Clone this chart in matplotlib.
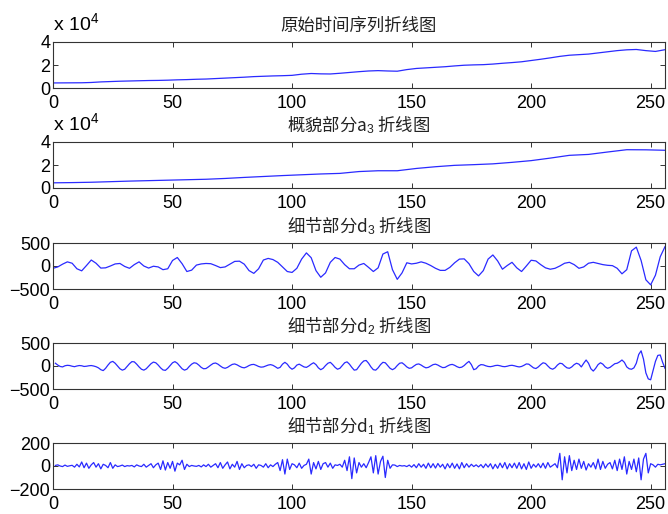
import matplotlib.pyplot as plt
import numpy as np

# original series (every 4th sample)
orig_x = np.arange(0, 257, 4)
orig = [4400, 4450, 4500, 4550, 4800, 5300, 5600, 5900, 6100, 6300, 6500, 6600, 6800,
        7100, 7300, 7600, 7800, 8200, 8600, 9000, 9400, 9900, 10200, 10500, 10700,
        11000, 12000, 12600, 12300, 12200, 12800, 13500, 14200, 14800, 15100, 14800,
        14600, 16000, 17000, 17500, 18000, 18500, 19200, 19800, 20100, 20300, 20800,
        21500, 22100, 22800, 23900, 25000, 26200, 27500, 28500, 29000, 29500, 30500,
        31500, 32500, 33200, 33500, 32500, 31800, 33300]

# approximation a3 (every 8th sample)
a3_x = np.arange(0, 257, 8)
a3 = [4500, 4700, 5000, 5500, 6000, 6400, 6800, 7200, 7600, 8300, 9200, 10000, 10800,
      11500, 12200, 12700, 14300, 15000, 15000, 17000, 18500, 19700, 20300, 21000,
      22300, 23800, 26000, 28400, 29200, 31300, 33300, 33200, 32800]

# detail d3 (every 2nd sample)
d3_x = np.arange(0, 257, 2)
d3 = [-50, -20, 40, 90, 60, -60, -105, 10, 130, 60, -45, -40, 0, 45, 55, -10,
      -50, 30, 90, 0, -45, -5, -20, -80, -60, 120, 185, 50, -120, -90, 20, 45,
      55, 50, 10, -35, -20, 40, 100, 105, 40, -100, -160, -60, 130, 165, 140, 80,
      -20, -120, -140, -50, 150, 285, 180, -100, -245, -150, 80, 185, 150, 30, -60, -60,
      20, 55, -30, -120, -40, 260, 310, -80, -290, -150, 70, 45, 60, 90, 60, 10,
      -50, -95, -95, -30, 70, 150, 155, 50, -120, -215, -100, 150, 240, 110, -70, 10,
      80, -40, -120, 0, 125, 110, 30, -40, -70, -50, 0, 60, 80, 30, -50, -20,
      60, 80, 55, 30, 15, 8, -50, -170, -80, 330, 410, 120, -300, -410, -200, 200,
      420]

# detail d2
d2 = [60, 20, -10, -20, 5, 15, 10, -5, -15, 0, 10, 5, -10, -5, 5, 10,
      0, -15, -40, -80, -100, -50, 20, 80, 100, 60, 0, -60, -90, -70, -10, 50,
      95, 90, 40, -20, -70, -90, -60, -5, 50, 85, 70, 20, -40, -85, -95, -50,
      10, 70, 95, 60, 0, -60, -90, -70, -10, 40, 70, 60, 20, -30, -60, -55,
      -20, 20, 55, 65, 40, 0, -35, -50, -30, 5, 35, 45, 25, -5, -30, -40,
      -20, 10, 30, 35, 15, -10, -25, -20, 0, 20, 30, 15, -15, -50, -30, 40,
      80, 40, -30, -70, -40, 20, 40, 10, -20, -30, 0, 40, 70, 30, -40, -80,
      -50, 10, 60, 80, 30, -30, -70, -50, 10, 70, 90, 40, -30, -90, -80, -10,
      60, 110, 120, 60, -20, -80, -90, -40, 30, 80, 70, 10, -50, -80, -50, 10,
      60, 70, 30, -20, -50, -40, 0, 35, 45, 20, -15, -40, -30, 0, 30, 40,
      20, -10, -35, -30, 0, 25, 35, 15, -15, -35, -25, 10, 60, 100, 30, -80,
      -60, 0, 30, 25, 5, -10, -15, -5, 10, 15, 5, -10, -15, -5, 10, 15,
      5, -10, -20, -10, 15, 45, 40, 0, -40, -55, -20, 30, 70, 55, 0, -50,
      -70, -40, 20, 60, 50, 0, -40, -50, -20, 30, 60, 40, -20, 60, 130, 60,
      -60, -110, -50, 30, 70, 40, -20, -50, -30, 10, 50, 60, 90, 130, 80, -20,
      -60, -70, -40, 60, 250, 330, 150, -150, -280, -300, -100, 100, 230, 240, 80, -50]

# detail d1
d1 = [5, 10, 0, -5, 8, -3, 2, 6, -10, 15, -8, 35, -15, 25, -20, 10,
      30, -10, 20, -25, 15, 5, -15, 30, -20, 10, -5, 0, 8, -5, 3, 0,
      5, -8, 10, 0, -5, 15, -10, 5, 20, -15, 10, 25, -30, 45, -35, 30,
      -20, 40, -45, 25, 10, 50, -30, 15, -5, 5, 0, -3, 5, -8, 10, -5,
      15, -10, 5, 20, -15, 30, -20, 10, 35, -25, 15, -10, 40, -30, 20, -15,
      5, 10, -5, 15, -20, 10, 5, -10, 20, -15, 10, -5, 15, 30, -40, 55,
      -70, 60, -30, 20, 10, -15, 25, -20, 5, 15, 60, -70, 30, -25, 40, -30,
      20, 30, -10, 25, -20, 10, 5, 15, -10, 50, -40, 80, -110, 70, -60, 30,
      -10, 20, -15, 30, 80, -60, 90, -70, 40, 85, -100, 50, -20, 10, 8, -5,
      5, 0, 3, -5, 8, -10, 12, -15, 20, -10, 15, -20, 25, -15, 20, -18,
      22, -10, 15, -25, 20, -15, 25, -20, 18, -25, 30, -15, 20, -10, 15, -5,
      10, -8, 12, -15, 18, -10, 20, -25, 15, -20, 25, -15, 30, -25, 20, -15,
      25, -20, 30, -25, 20, -30, 35, -20, 15, -10, 20, -15, 25, -20, 30, -10,
      5, 20, -15, 110, -120, 80, -60, 90, -40, 50, -30, 60, -20, 40, -35, 20,
      -10, 30, -25, 60, -30, 40, -20, 15, 30, -25, 50, -40, 60, -30, 80, -70,
      40, -30, 60, -50, 70, -120, 60, 110, -60, 20, 10, -10, 15, 10, 15, 20]
d_x = np.arange(1, 257)

titles = ['原始时间序列折线图', '概貌部分a$_3$ 折线图', '细节部分d$_3$ 折线图',
          '细节部分d$_2$ 折线图', '细节部分d$_1$ 折线图']
xticks = [0, 50, 100, 150, 200, 250]

plt.rcParams['font.family'] = ['Liberation Sans', 'DejaVu Sans']
plt.rcParams['mathtext.fontset'] = 'custom'
plt.rcParams['mathtext.rm'] = 'Liberation Sans'
plt.rcParams['mathtext.it'] = 'Liberation Sans'
plt.rcParams['font.size'] = 11

fig = plt.figure(figsize=(6.68, 5.14), dpi=100)

series = [(orig_x, orig), (a3_x, a3), (d3_x, d3), (d_x, d2), (d_x, d1)]
ylims = [(0, 40000), (0, 40000), (-500, 500), (-500, 500), (-200, 200)]
yticks = [[0, 20000, 40000], [0, 20000, 40000], [-500, 0, 500], [-500, 0, 500], [-200, 0, 200]]
bottoms = [1 - 88 / 514, 1 - 188 / 514, 1 - 289 / 514, 1 - 389 / 514, 1 - 489 / 514]

for i, (xs, ys) in enumerate(series):
    ax = fig.add_axes([53 / 668, bottoms[i], 612 / 668, 46 / 514])
    ax.plot(xs, ys, color='#2a2aff', lw=0.9)
    ax.set_xlim(0, 256)
    ax.set_ylim(*ylims[i])
    ax.set_xticks(xticks)
    ax.set_yticks(yticks[i])
    if i < 2:
        ax.set_yticklabels([str(int(v / 10000)) for v in yticks[i]])
        ax.text(0, 1.17, 'x 10$^4$', transform=ax.transAxes, fontsize=14,
                ha='left', va='bottom')
    ax.tick_params(direction='in', top=True, right=True, length=3.5, width=0.7,
                   colors='#333333', labelcolor='black', labelsize=13, pad=2)
    ax.tick_params(axis='x', pad=5)
    for sp in ax.spines.values():
        sp.set_color('#333333')
        sp.set_linewidth(0.8)
    ax.set_title(titles[i], fontsize=12.5, pad=8,
                 family=['Noto Sans CJK SC', 'DejaVu Sans'], color='#222222')

fig.savefig('out.png', dpi=100)
